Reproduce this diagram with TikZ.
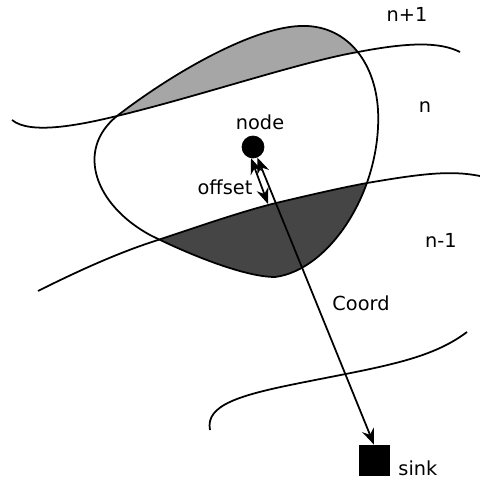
\documentclass[tikz,border=0pt]{standalone}
\usepackage{fontspec}
\setmainfont{DejaVu Sans}
\usetikzlibrary{positioning}
\usetikzlibrary{arrows.meta}
\tikzset{
    mynode/.style = {circle, draw=black, fill=black, minimum size=0.44cm, inner sep=0pt},
    mynodes/.style = {rectangle, draw=black, fill=black, minimum size=0.6cm, inner sep=0pt},
    mytext/.style = {inner sep=0pt, text=black},
    edgen/.style = {-, line width=1pt, black},
    edgea/.style = {{Stealth[length=9pt,width=7pt]}-{Stealth[length=9pt,width=7pt]}, line width=1pt, black},
    fillg/.style = {fill=black!35}, % upper part
    filld/.style = {fill=black!73}, % lower part
}

\begin{document}
\begin{tikzpicture}[x=0.02cm,y=-0.02cm,font=\fontsize{11}{13}\selectfont]
\useasboundingbox (0,0) rectangle (480,479);

% shaded parts of the region
\begin{scope}
\clip (300,26) .. controls (345,24) and (375,60) .. (378,110)
  .. controls (382,190) and (330,270) .. (275,277)
  .. controls (245,277) and (190,255) .. (150,235)
  .. controls (95,205) and (75,150) .. (117,116)
  .. controls (170,75) and (250,28) .. (300,26) -- cycle;
\fill[fillg] (12,120) .. controls (30,135) and (80,125) .. (117,116)
  .. controls (200,96) and (300,62) .. (358,52)
  .. controls (410,42) and (440,42) .. (460,52) -- (480,0) -- (0,0) -- cycle;
\fill[filld] (38,291) .. controls (80,270) and (120,252) .. (158,240)
  .. controls (200,226) and (240,212) .. (276,203)
  .. controls (310,195) and (340,188) .. (367,183)
  .. controls (420,174) and (450,170) .. (480,176) -- (480,479) -- (0,479) -- cycle;
\end{scope}

% level curves
\draw[edgen] (12,120) .. controls (30,135) and (80,125) .. (117,116)
  .. controls (200,96) and (300,62) .. (358,52)
  .. controls (410,42) and (440,42) .. (460,52);
\draw[edgen] (38,291) .. controls (80,270) and (120,252) .. (158,240)
  .. controls (200,226) and (240,212) .. (276,203)
  .. controls (310,195) and (340,188) .. (367,183)
  .. controls (420,174) and (450,170) .. (480,176);
\draw[edgen] (210,430) .. controls (205,405) and (240,395) .. (300,383)
  .. controls (380,367) and (430,360) .. (467,332);

% region
\draw[edgen] (300,26) .. controls (345,24) and (375,60) .. (378,110)
  .. controls (382,190) and (330,270) .. (275,277)
  .. controls (245,277) and (190,255) .. (150,235)
  .. controls (95,205) and (75,150) .. (117,116)
  .. controls (170,75) and (250,28) .. (300,26) -- cycle;

%
\node[mynode, label={[xshift=4pt]above:node}] at (253,147) (nd) {};
\node[mynodes, label={[anchor=base west,inner sep=0pt,xshift=5pt]south east:sink}] at (374,460) (snk) {};
\coordinate (ofs) at (268,204);
%
\draw[edgea] (nd) -- (snk.north);
\draw[edgea] (nd.-100) -- (ofs);
%
\node[mytext] at (225,187) (toff) {offset};
\node[mytext] at (361,303) (tcrd) {Coord};
\node[mytext] at (407,14) (tn1) {n+1};
\node[mytext] at (425,107) (tn) {n};
\node[mytext] at (441,240) (tn2) {n-1};

\end{tikzpicture}
\end{document}
